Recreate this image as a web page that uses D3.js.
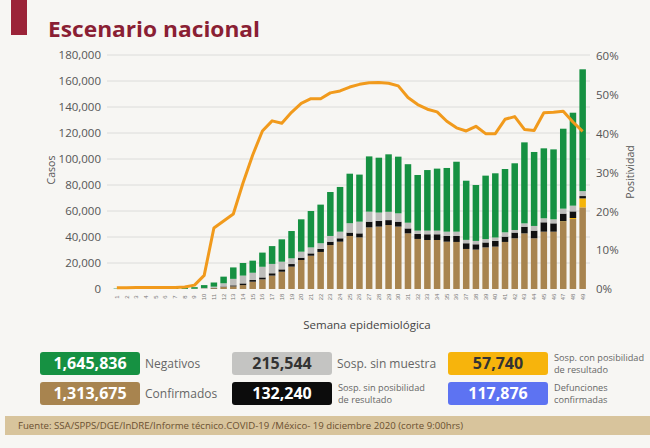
<!DOCTYPE html>
<html><head><meta charset="utf-8">
<script src="https://cdn.jsdelivr.net/npm/d3@7"></script>
<style>
html,body{margin:0;padding:0;background:#f7f6f3;}
svg{display:block;font-family:"Open Sans","DejaVu Sans",sans-serif;}
</style></head>
<body>
<svg id="c" width="650" height="448"></svg>
<script>
const weeks = d3.range(1, 50);
const confirmados = [0,0,0,0,0,0,0,100,200,300,600,1500,2000,3000,5600,7400,10300,13300,17200,22300,25600,28500,33800,36400,40800,39700,47400,48000,49200,48000,42800,38500,37700,37700,36400,36200,30800,30300,32000,32600,36200,39000,42800,39000,44100,44100,51800,53800,62800];
const conPosibilidad = [0,0,0,0,0,0,0,0,0,0,0,0,0,0,0,0,0,0,0,0,0,0,0,0,0,0,0,0,0,0,0,0,0,0,0,0,0,0,0,0,0,0,0,0,0,0,300,800,6900];
const sinPosibilidad = [0,0,0,0,0,0,0,0,0,0,200,400,800,1300,1300,1500,1800,1800,2000,1800,1800,2300,2600,2600,2600,3100,4400,4400,3800,3800,3800,3800,4400,4400,4400,4600,4400,4100,3800,4400,4100,4400,5100,5900,7200,6400,5900,5100,1800];
const sinMuestra = [0,0,0,0,0,0,0,0,0,500,1000,2500,5000,6000,5600,8200,7200,5900,4400,4600,4600,4400,4400,5100,7200,9000,7700,6400,6400,6400,4400,2600,2800,2800,3300,3300,2600,2600,2600,2600,3300,2000,2600,3600,3100,3100,3800,4400,3800];
const negativos = [300,600,1500,1800,1800,1700,1700,1500,1200,2200,3200,5100,8800,9700,9300,10900,13700,17200,21000,24900,28000,29700,33800,34400,38100,36200,42500,42200,44200,43600,45000,42800,46600,47700,49000,53800,45500,43000,48800,49400,48700,51300,62300,56900,53800,53800,61500,71500,93700];
const positividad = [0.3,0.3,0.4,0.4,0.4,0.4,0.4,0.5,1.0,3.5,15.7,17.5,19.3,27.3,34.5,40.7,43.3,42.7,45.5,47.8,49,49,50.5,51,52,52.7,53.1,53.2,53,52.3,49.3,47.5,46.3,45.6,43.2,41.5,40.7,41.9,40,40,43.7,44.4,41.1,40.8,45.4,45.5,45.8,43,40.6];
const yTicks = [0,20000,40000,60000,80000,100000,120000,140000,160000,180000];
const pTicks = [0,10,20,30,40,50,60];

const seriesKeys = ["confirmados","conPosibilidad","sinPosibilidad","sinMuestra","negativos"];
const seriesData = {confirmados, conPosibilidad, sinPosibilidad, sinMuestra, negativos};
const colors = {confirmados:"#a8844f", conPosibilidad:"#f5b50a", sinPosibilidad:"#111111", sinMuestra:"#bdbdbb", negativos:"#169142"};

const legendItems = [
  {value:"1,645,836", label:["Negativos"], fill:"#169142", text:"#fff", x:40, y:352},
  {value:"215,544", label:["Sosp. sin muestra"], fill:"#c4c4c2", text:"#333", x:232, y:352},
  {value:"57,740", label:["Sosp. con posibilidad","de resultado"], fill:"#f7b40c", text:"#333", x:448, y:352},
  {value:"1,313,675", label:["Confirmados"], fill:"#a8844f", text:"#fff", x:40, y:382},
  {value:"132,240", label:["Sosp. sin posibilidad","de resultado"], fill:"#0c0c0c", text:"#fff", x:232, y:382},
  {value:"117,876", label:["Defunciones","confirmadas"], fill:"#5d73f2", text:"#fff", x:448, y:382}
];

const svg = d3.select("#c");
svg.append("rect").attr("width",650).attr("height",448).attr("fill","#f7f6f3");

// title
svg.append("rect").attr("x",11).attr("y",0).attr("width",16).attr("height",35).attr("fill","#9b2338");
svg.append("text").attr("x",48).attr("y",37).attr("font-size",22).attr("font-weight",700)
  .attr("fill","#8a1f34").attr("textLength",212).attr("lengthAdjust","spacingAndGlyphs").text("Escenario nacional");

const x = d3.scaleBand().domain(weeks).range([112,587.5]).paddingInner(0.33).paddingOuter(0.165);
const y = d3.scaleLinear().domain([0,180000]).range([289,55]);
const yp = d3.scaleLinear().domain([0,60]).range([289,56]);

// grid
svg.append("g").selectAll("line").data(yTicks.slice(1)).join("line")
  .attr("x1",107).attr("x2",590).attr("y1",d=>y(d)).attr("y2",d=>y(d))
  .attr("stroke","#dcdcda").attr("stroke-width",1);

// left axis
const yAxis = d3.axisLeft(y).tickValues(yTicks).tickFormat(d3.format(",")).tickSize(0).tickPadding(0);
const gy = svg.append("g").attr("transform","translate(101,0)").call(yAxis);
gy.select(".domain").remove();
gy.selectAll("text").attr("font-size",11.5).attr("fill","#555").attr("font-family","Open Sans, sans-serif");

// right axis
const pAxis = d3.axisRight(yp).tickValues(pTicks).tickFormat(d=>d+"%").tickSize(0).tickPadding(0);
const gp = svg.append("g").attr("transform","translate(596,0)").call(pAxis);
gp.select(".domain").remove();
gp.selectAll("text").attr("font-size",11.5).attr("fill","#555").attr("font-family","Open Sans, sans-serif");

svg.append("text").attr("transform","translate(55,170) rotate(-90)").attr("text-anchor","middle")
  .attr("font-size",10.5).attr("fill","#555").text("Casos");
svg.append("text").attr("transform","translate(634,172) rotate(-90)").attr("text-anchor","middle")
  .attr("font-size",10.5).attr("fill","#555").text("Positividad");

// stacked bars
const table = weeks.map((w,i)=>{const o={week:w}; seriesKeys.forEach(k=>o[k]=seriesData[k][i]); return o;});
const stack = d3.stack().keys(seriesKeys)(table);
svg.append("g").selectAll("g").data(stack).join("g").attr("fill",d=>colors[d.key])
  .selectAll("rect").data(d=>d).join("rect")
  .attr("x",d=>x(d.data.week)).attr("width",x.bandwidth())
  .attr("y",d=>y(d[1])).attr("height",d=>Math.max(0,y(d[0])-y(d[1])));

// x axis labels
const xAxis = d3.axisBottom(x).tickSize(0).tickPadding(0);
const gx = svg.append("g").attr("transform","translate(0,290)").call(xAxis);
gx.select(".domain").remove();
gx.selectAll("text").attr("font-size",6).attr("fill","#777").attr("dy",null)
  .attr("transform","translate(0,7) rotate(-90)").attr("text-anchor","middle").attr("dominant-baseline","central");

svg.append("text").attr("x",367).attr("y",329).attr("text-anchor","middle").attr("font-size",11.5)
  .attr("fill","#444").text("Semana epidemiológica");

// positivity line
const line = d3.line().x((d,i)=>x(weeks[i])+x.bandwidth()/2).y(d=>yp(d)).curve(d3.curveLinear);
svg.append("path").datum(positividad).attr("d",line).attr("fill","none")
  .attr("stroke","#f19a1c").attr("stroke-width",3).attr("stroke-linejoin","round");

// legend
const lg = svg.append("g").selectAll("g").data(legendItems).join("g");
lg.append("rect").attr("x",d=>d.x).attr("y",d=>d.y).attr("width",100).attr("height",23).attr("rx",3).attr("fill",d=>d.fill);
lg.append("text").attr("x",d=>d.x+50).attr("y",d=>d.y+17).attr("text-anchor","middle")
  .attr("font-size",16).attr("font-weight",700).attr("fill",d=>d.text).text(d=>d.value);
lg.each(function(d){
  const g = d3.select(this);
  if(d.label.length===1){
    g.append("text").attr("x",d.x+105).attr("y",d.y+16).attr("font-size",12).attr("fill","#666").text(d.label[0]);
  } else {
    d.label.forEach((t,j)=>g.append("text").attr("x",d.x+106).attr("y",d.y+9+j*12).attr("font-size",9.2).attr("fill","#666").text(t));
  }
});

// footer
svg.append("rect").attr("x",5).attr("y",416).attr("width",645).attr("height",19).attr("fill","#d8c49c");
svg.append("text").attr("x",18).attr("y",429).attr("font-size",9.5).attr("fill","#6b5030")
  .attr("textLength",445).attr("lengthAdjust","spacingAndGlyphs")
  .text("Fuente: SSA/SPPS/DGE/InDRE/Informe técnico.COVID-19 /México- 19 diciembre 2020 (corte 9:00hrs)");
</script>
</body></html>
